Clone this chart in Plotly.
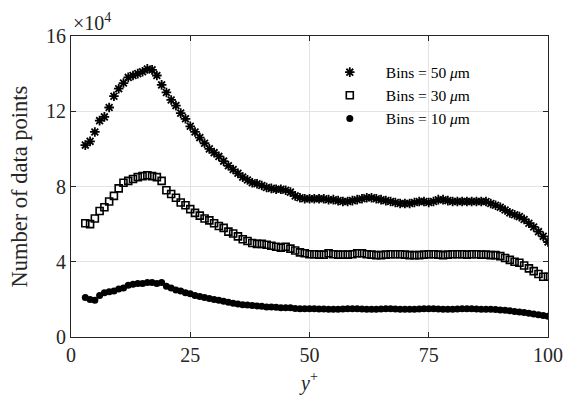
import plotly.graph_objects as go

# y+ positions
y_plus = list(range(3, 101))

# Number of data points (x 10^4)
bins50 = [10.2, 10.4, 10.9, 11.5, 11.7, 12.2, 12.8, 13.2, 13.5, 13.8,
          13.9, 14.0, 14.1, 14.25, 14.2, 13.9, 13.4, 13.0, 12.6, 12.3,
          11.9, 11.6, 11.2, 10.9, 10.6, 10.3, 10.0, 9.8, 9.6, 9.35,
          9.1, 8.9, 8.7, 8.5, 8.35, 8.2, 8.15, 8.05, 7.95, 7.9,
          7.85, 7.85, 7.8, 7.7, 7.5, 7.4, 7.35, 7.35, 7.35, 7.35,
          7.35, 7.3, 7.3, 7.25, 7.2, 7.2, 7.25, 7.3, 7.35, 7.4,
          7.4, 7.35, 7.3, 7.25, 7.2, 7.15, 7.1, 7.1, 7.1, 7.15,
          7.2, 7.2, 7.15, 7.2, 7.3, 7.3, 7.25, 7.2, 7.2, 7.2,
          7.2, 7.2, 7.2, 7.2, 7.2, 7.1, 7.0, 6.9, 6.75, 6.6,
          6.5, 6.4, 6.25, 6.05, 5.85, 5.6, 5.35, 5.05]

bins30 = [6.05, 6.0, 6.3, 6.7, 6.9, 7.2, 7.5, 7.9, 8.2, 8.3,
          8.4, 8.5, 8.55, 8.6, 8.55, 8.5, 8.3, 7.8, 7.6, 7.4,
          7.15, 7.0, 6.8, 6.6, 6.45, 6.3, 6.2, 6.05, 5.9, 5.8,
          5.6, 5.5, 5.35, 5.2, 5.1, 5.0, 4.95, 4.95, 4.9, 4.85,
          4.8, 4.75, 4.8, 4.7, 4.6, 4.5, 4.45, 4.4, 4.4, 4.38,
          4.38, 4.45, 4.4, 4.38, 4.38, 4.38, 4.4, 4.45, 4.45, 4.4,
          4.38, 4.35, 4.35, 4.38, 4.4, 4.4, 4.4, 4.38, 4.35, 4.35,
          4.35, 4.38, 4.4, 4.4, 4.38, 4.35, 4.38, 4.4, 4.4, 4.4,
          4.38, 4.4, 4.4, 4.38, 4.38, 4.35, 4.35, 4.3, 4.2, 4.1,
          4.0, 3.95, 3.8, 3.65, 3.5, 3.35, 3.2, 3.2]

bins10 = [2.1, 2.0, 1.95, 2.2, 2.35, 2.4, 2.45, 2.55, 2.6, 2.75,
          2.8, 2.85, 2.85, 2.9, 2.9, 2.85, 2.9, 2.7, 2.6, 2.5,
          2.45, 2.35, 2.3, 2.2, 2.15, 2.1, 2.05, 2.0, 1.95, 1.9,
          1.85, 1.8, 1.75, 1.72, 1.7, 1.68, 1.65, 1.63, 1.6, 1.6,
          1.58, 1.55, 1.55, 1.55, 1.52, 1.5, 1.5, 1.5, 1.5, 1.49,
          1.49, 1.48, 1.48, 1.48, 1.49, 1.5, 1.5, 1.5, 1.49, 1.48,
          1.48, 1.48, 1.49, 1.5, 1.5, 1.49, 1.48, 1.48, 1.48, 1.48,
          1.49, 1.5, 1.5, 1.5, 1.49, 1.48, 1.48, 1.48, 1.49, 1.5,
          1.5, 1.5, 1.49, 1.48, 1.48, 1.48, 1.46, 1.44, 1.42, 1.39,
          1.36, 1.33, 1.3, 1.26, 1.22, 1.18, 1.14, 1.1]

x_ticks = [0, 25, 50, 75, 100]
y_ticks = [0, 4, 8, 12, 16]

font_family = "Liberation Serif"

fig = go.Figure()
fig.add_trace(go.Scatter(
    x=y_plus, y=bins50, mode="markers", name="Bins = 50 <i>μ</i>m",
    marker=dict(symbol="asterisk-open", size=8, color="black",
                line=dict(width=1.8, color="black"))))
fig.add_trace(go.Scatter(
    x=y_plus, y=bins30, mode="markers", name="Bins = 30 <i>μ</i>m",
    marker=dict(symbol="square-open", size=7, color="black",
                line=dict(width=1.6, color="black"))))
fig.add_trace(go.Scatter(
    x=y_plus, y=bins10, mode="markers", name="Bins = 10 <i>μ</i>m",
    marker=dict(symbol="circle", size=7, color="black",
                line=dict(width=0))))

axis_common = dict(
    showline=True, linecolor="#262626", linewidth=1, mirror="ticks",
    ticks="inside", ticklen=5, tickcolor="#262626", automargin=False,
    showgrid=True, gridcolor="#e3e3e3", gridwidth=1, zeroline=False,
    tickfont=dict(family=font_family, size=20, color="#262626"),
)

fig.update_layout(
    width=564, height=404, autosize=False,
    margin=dict(l=71, r=16, t=36, b=67, autoexpand=False),
    paper_bgcolor="white", plot_bgcolor="white",
    font=dict(family=font_family, color="#262626"),
    xaxis=dict(range=[0, 100], tickvals=x_ticks,
               title=dict(text="<i>y</i><sup>+</sup>", font=dict(family=font_family, size=20), standoff=10),
               **axis_common),
    yaxis=dict(range=[0, 16], tickvals=y_ticks, **axis_common),
    legend=dict(x=0.509, y=0.935, xanchor="left", yanchor="top",
                bgcolor="rgba(255,255,255,0)", borderwidth=0,
                font=dict(family=font_family, size=15.5, color="black"),
                itemwidth=62, tracegroupgap=0),
    showlegend=True,
    annotations=[
        dict(text="×10<sup>4</sup>", xref="paper", yref="paper",
             x=0.0, y=1.0, xanchor="left", yanchor="bottom",
             showarrow=False, yshift=0,
             font=dict(family=font_family, size=20, color="#262626")),
        dict(text="Number of data points", xref="paper", yref="paper",
             x=0.0, y=0.5, xanchor="center", yanchor="middle", textangle=-90,
             showarrow=False, xshift=-52,
             font=dict(family=font_family, size=22.5, color="#262626")),
    ],
)

fig.write_html("out.html")
